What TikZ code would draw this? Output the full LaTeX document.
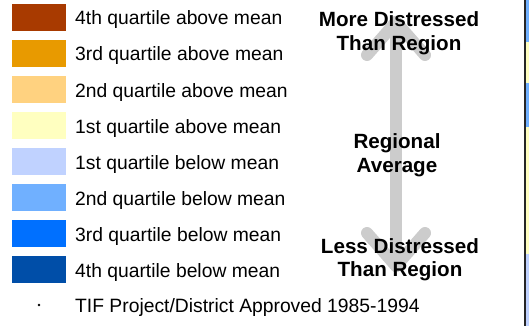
\documentclass[tikz,border=0pt]{standalone}
\usepackage{fontspec}
\setmainfont{Liberation Sans}
\definecolor{q4a}{RGB}{168,58,0}
\definecolor{q3a}{RGB}{232,154,0}
\definecolor{q2a}{RGB}{255,210,128}
\definecolor{q1a}{RGB}{255,255,192}
\definecolor{q1b}{RGB}{192,210,255}
\definecolor{q2b}{RGB}{112,176,255}
\definecolor{q3b}{RGB}{0,112,255}
\definecolor{q4b}{RGB}{0,78,168}
\definecolor{arrowgray}{RGB}{204,204,204}
\begin{document}
\begin{tikzpicture}[x=1pt,y=-1pt,
  swatch/.style={fill=#1,draw=none},
  legtext/.style={anchor=base west,inner sep=0pt,font=\fontsize{19.3}{22}\selectfont},
  boldtext/.style={anchor=base,inner sep=0pt,font=\fontsize{20.6}{24}\selectfont\bfseries},
  grayarrow/.style={draw=arrowgray,line width=12pt,line cap=round,line join=round}]
\useasboundingbox (0,0) rectangle (529,326);
\fill[white] (0,0) rectangle (529,326);
% gray double arrow (behind text)
\coordinate (atop) at (396,22);
\coordinate (abot) at (396,266);
\draw[grayarrow] (atop) -- (abot);
\draw[grayarrow] (367,55) -- (atop) -- (425,55);
\draw[grayarrow] (367,233) -- (abot) -- (425,233);
% legend
\foreach \c/\t [count=\i from 0] in {q4a/4th quartile above mean,q3a/3rd quartile above mean,q2a/2nd quartile above mean,q1a/1st quartile above mean,q1b/1st quartile below mean,q2b/2nd quartile below mean,q3b/3rd quartile below mean,q4b/4th quartile below mean}{
  \fill[swatch=\c] (12,4+36*\i) rectangle (66,31+36*\i);
  \node[legtext] (leg\i) at (75,25+36*\i) {\t};
}
\fill (39,305) circle (1.3);
\node[legtext] (tif) at (75,312) {TIF Project/District Approved 1985-1994};
% bold labels
\node[boldtext] (more1) at (399,27) {More Distressed};
\node[boldtext] (more2) at (399,51) {Than Region};
\node[boldtext] (avg1) at (397,148) {Regional};
\node[boldtext] (avg2) at (397,172) {Average};
\node[boldtext] (less1) at (400,253) {Less Distressed};
\node[boldtext] (less2) at (400,276) {Than Region};
% right edge map fragment
\fill[q2b] (526,0) rectangle (529,42);
\fill[q1a] (526,42) rectangle (529,83);
\fill[q2b] (526,83) rectangle (529,127);
\fill[q1a] (526,127) rectangle (529,254);
\fill[q1b] (526,254) rectangle (529,326);
\draw[line width=2pt,black!85] (525,0) -- (525,326);
\end{tikzpicture}
\end{document}
